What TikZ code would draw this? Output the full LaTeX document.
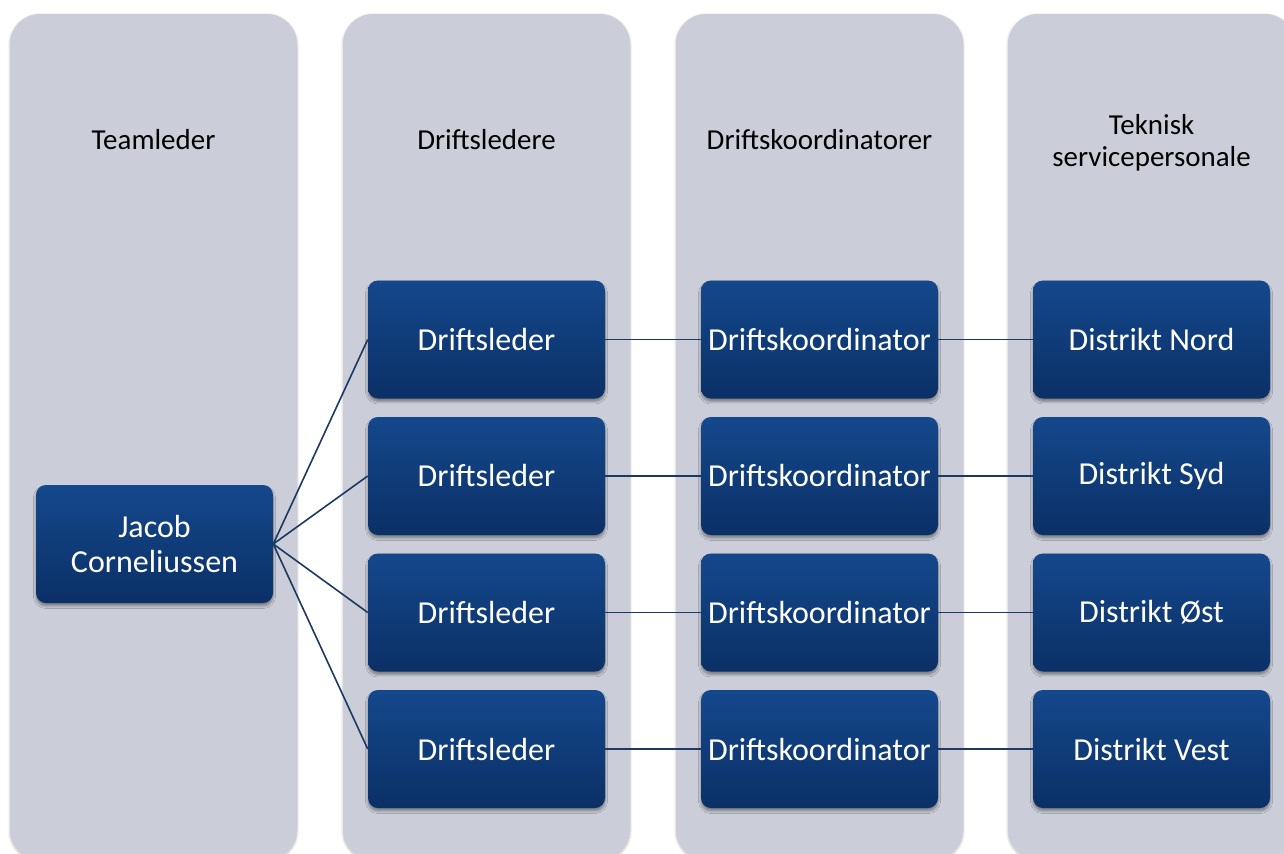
\documentclass[tikz,border=0pt]{standalone}
\usepackage{fontspec}
\setmainfont{Carlito}
\usetikzlibrary{shadows,shadows.blur}
\definecolor{colgray}{RGB}{203,206,216}
\definecolor{btop}{RGB}{20,72,140}
\definecolor{bbot}{RGB}{11,48,102}
\definecolor{linec}{RGB}{30,56,100}
\tikzset{
  colbox/.style={fill=colgray, rounded corners=22.5pt, draw=none,
    blur shadow={shadow xshift=0pt, shadow yshift=-0.8pt, shadow blur steps=6, shadow blur extra rounding=2pt, shadow opacity=25}},
  bluebox/.style={rectangle, rounded corners=7.5pt, top color=btop, bottom color=bbot, draw=none,
    minimum width=177.75pt, minimum height=88.5pt, inner sep=0pt, text=white,
    font=\fontsize{24}{26}\selectfont, align=center,
    blur shadow={shadow xshift=0pt, shadow yshift=-2.2pt, shadow blur steps=6, shadow opacity=40}},
  headtext/.style={text=black, font=\fontsize{21.7}{24}\selectfont, align=center, inner sep=0pt},
  conn/.style={draw=linec, line width=1.2pt}
}
\begin{document}
\begin{tikzpicture}[x=0.75pt, y=-0.75pt]
\useasboundingbox (0,0) rectangle (1284,853);
% columns
\path[colbox] (10,14) rectangle (297,860);
\path[colbox] (343,14) rectangle (630,860);
\path[colbox] (676,14) rectangle (963,860);
\path[colbox] (1008,14) rectangle (1295,860);
% headers
\node[headtext] (h1) at (153.5,140) {Teamleder};
\node[headtext] (h2) at (486.5,140) {Driftsledere};
\node[headtext] (h3) at (819.5,140) {Driftskoordinatorer};
\node[headtext] (h4) at (1151.5,143) {Teknisk\\servicepersonale};
% boxes
\node[bluebox] (j) at (154.5,544) {Jacob\\Corneliussen};
\node[bluebox] (d1) at (486.5,339.5) {Driftsleder};
\node[bluebox] (d2) at (486.5,476) {Driftsleder};
\node[bluebox] (d3) at (486.5,612.5) {Driftsleder};
\node[bluebox] (d4) at (486.5,749) {Driftsleder};
\node[bluebox] (k1) at (819.5,339.5) {Driftskoordinator};
\node[bluebox] (k2) at (819.5,476) {Driftskoordinator};
\node[bluebox] (k3) at (819.5,612.5) {Driftskoordinator};
\node[bluebox] (k4) at (819.5,749) {Driftskoordinator};
\node[bluebox] (t1) at (1151.5,339.5) {Distrikt Nord};
\node[bluebox] (t2) at (1151.5,476) {Distrikt Syd};
\node[bluebox] (t3) at (1151.5,612.5) {Distrikt Øst};
\node[bluebox] (t4) at (1151.5,749) {Distrikt Vest};
\foreach \i in {1,2,3,4}{
  \draw[conn] (j.east) -- (d\i.west);
  \draw[conn] (d\i.east) -- (k\i.west);
  \draw[conn] (k\i.east) -- (t\i.west);
}
\end{tikzpicture}
\end{document}
